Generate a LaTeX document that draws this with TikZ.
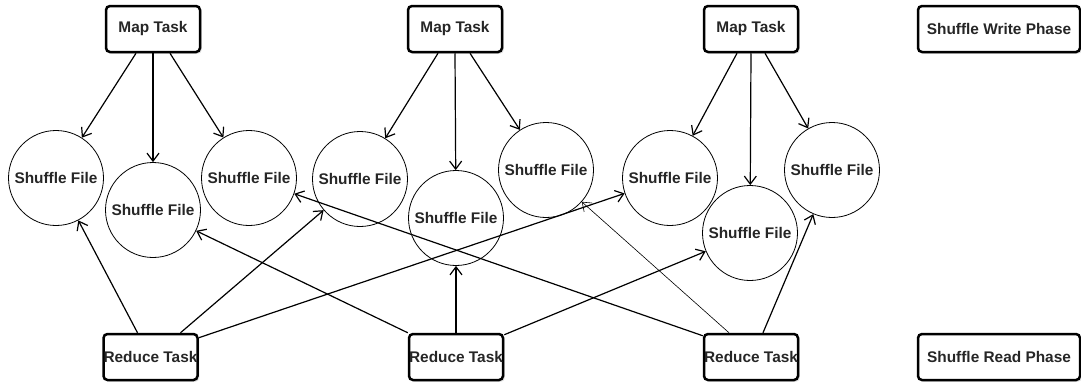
\documentclass[tikz,border=0pt]{standalone}
\usepackage{fontspec}
\setmainfont{Liberation Sans}
\usetikzlibrary{arrows.meta,shadows,calc}
\begin{document}
\begin{tikzpicture}[x=1pt,y=-1pt,
  lbl/.style={font=\bfseries\fontsize{15.4}{17}\selectfont, text=black!85},
  box/.style={lbl, draw, line width=2.5pt, rounded corners=4pt, fill=white,
    drop shadow={shadow xshift=1.8pt, shadow yshift=-1.8pt, opacity=0.22},
    minimum width=94pt, minimum height=46pt, inner sep=0pt},
  phase/.style={box, minimum width=162pt},
  file/.style={lbl, draw, circle, line width=0.8pt, minimum size=95pt, inner sep=0pt},
  link/.style={-{Straight Barb[length=8pt,width=12pt]}, line width=1.2pt},
  faint/.style={link, line width=0.6pt}
]
\useasboundingbox (0,0) rectangle (1081,383);

% Map tasks
\node[box] (m1) at (153,29) {Map Task};
\node[box] (m2) at (455,29) {Map Task};
\node[box] (m3) at (751,29) {Map Task};

% Reduce tasks
\node[box] (r1) at (150.5,357) {Reduce Task};
\node[box] (r2) at (456,357) {Reduce Task};
\node[box] (r3) at (751,357) {Reduce Task};

% Phase labels
\node[phase] (wp) at (999,29) {Shuffle Write Phase};
\node[phase] (rp) at (999,357) {Shuffle Read Phase};

% Shuffle files
\node[file] (c1) at (56,178) {Shuffle File};
\node[file] (c2) at (153,210) {Shuffle File};
\node[file] (c3) at (249,178) {Shuffle File};
\node[file] (c4) at (360,179) {Shuffle File};
\node[file] (c5) at (456,218) {Shuffle File};
\node[file] (c6) at (546,170) {Shuffle File};
\node[file] (c7) at (670,178) {Shuffle File};
\node[file] (c8) at (750,233) {Shuffle File};
\node[file] (c9) at (832,170) {Shuffle File};

% Map -> files
\draw[link] ($(m1.south)+(-17,0)$) -- (c1);
\draw[link] (m1.south) -- (c2);
\draw[link] ($(m1.south)+(17,0)$) -- (c3);
\draw[link] ($(m2.south)+(-17,0)$) -- (c4);
\draw[link] (m2.south) -- (c5);
\draw[link] ($(m2.south)+(15,0)$) -- (c6);
\draw[link] ($(m3.south)+(-14,0)$) -- (c7);
\draw[link] (m3.south) -- (c8);
\draw[link] ($(m3.south)+(14,0)$) -- (c9);

% Reduce -> files
\draw[link] ($(r1.north)+(-13,0)$) -- (c1);
\draw[link] ($(r1.north)+(30,0)$) -- (c4);
\draw[link] ($(r1.north east)+(0,5)$) -- (c7);
\draw[link] (r2.north west) -- (c2);
\draw[link] (r2.north) -- (c5);
\draw[link] ($(r2.north east)+(0,2)$) -- (c8);
\draw[link] ($(r3.north west)+(0,3)$) -- (c3);
\draw[faint] ($(r3.north)+(-22,0)$) -- (c6);
\draw[link] ($(r3.north)+(12,0)$) -- (c9);
\end{tikzpicture}
\end{document}
